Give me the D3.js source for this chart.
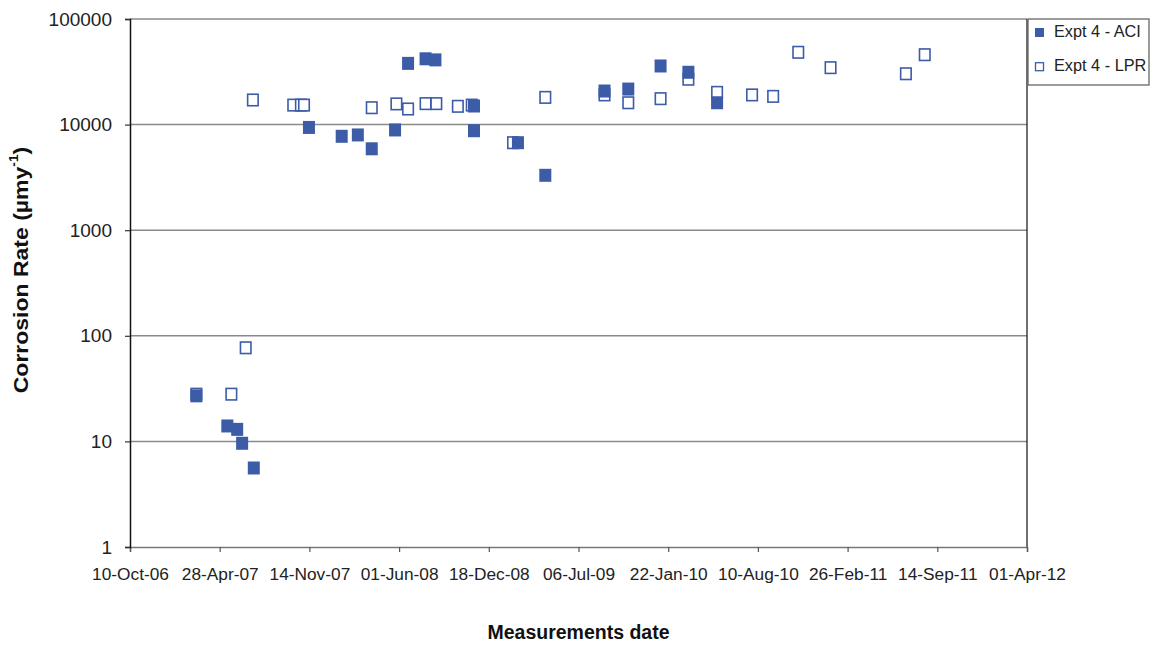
<!DOCTYPE html>
<html><head><meta charset="utf-8">
<script src="https://cdn.jsdelivr.net/npm/d3@7"></script>
<style>
html,body{margin:0;padding:0;background:#fff;}
svg{display:block;font-family:"Liberation Sans",Arial,sans-serif;}
</style></head>
<body>
<svg id="chart" width="1151" height="646"></svg>
<script>
// ---- data ----
const xTickLabels = ["10-Oct-06","28-Apr-07","14-Nov-07","01-Jun-08","18-Dec-08","06-Jul-09","22-Jan-10","10-Aug-10","26-Feb-11","14-Sep-11","01-Apr-12"];
const yTickValues = [1,10,100,1000,10000,100000];

const aciDates = ["07-Mar-07","15-May-07","06-Jun-07","17-Jun-07","13-Jul-07","13-Nov-07","25-Jan-08","01-Mar-08","01-Apr-08","23-May-08","21-Jun-08","30-Jul-08","21-Aug-08","15-Nov-08","15-Nov-08","21-Feb-09","23-Apr-09","02-Sep-09","25-Oct-09","05-Jan-10","08-Mar-10","11-May-10"];
const aciValues = [27,14,13,9.6,5.6,9400,7750,7980,5900,8900,38000,42000,41000,15000,8750,6740,3310,20800,21700,35900,31300,16100];

const lprDates = ["07-Mar-07","24-May-07","25-Jun-07","11-Jul-07","09-Oct-07","26-Oct-07","02-Nov-07","01-Apr-08","26-May-08","21-Jun-08","30-Jul-08","23-Aug-08","10-Oct-08","10-Nov-08","10-Feb-09","23-Apr-09","02-Sep-09","25-Oct-09","05-Jan-10","08-Mar-10","11-May-10","28-Jul-10","13-Sep-10","08-Nov-10","19-Jan-11","06-Jul-11","17-Aug-11"];
const lprValues = [28,28,77,17100,15300,15300,15300,14450,15700,14050,15800,15800,14900,15300,6740,18100,19100,16100,17600,26900,20200,19100,18500,48400,34600,30300,45900];

const seriesNames = ["Expt 4 - ACI","Expt 4 - LPR"];

// ---- setup ----
const parse = d3.timeParse("%d-%b-%y");
const fmt = d3.timeFormat("%d-%b-%y");
const pLeft = 130, pRight = 1027, pTop = 19, pBottom = 547;
const blue = "#3c5ca8";

const svg = d3.select("#chart");
const x = d3.scaleTime()
  .domain([parse(xTickLabels[0]), parse(xTickLabels[xTickLabels.length-1])])
  .range([pLeft, pRight]);
const y = d3.scaleLog().domain([1,100000]).range([pBottom, pTop]);

// gridlines
svg.append("g").selectAll("line").data(yTickValues.filter(v => v > 1)).join("line")
  .attr("x1", pLeft).attr("x2", pRight)
  .attr("y1", d => y(d)).attr("y2", d => y(d))
  .attr("stroke", "#8a8a8a").attr("stroke-width", 1.5);

// right border
svg.append("line").attr("x1", pRight).attr("x2", pRight).attr("y1", pTop).attr("y2", pBottom)
  .attr("stroke", "#222").attr("stroke-width", 1.3);

// x axis
const xAxis = svg.append("g").attr("transform", `translate(0,${pBottom})`)
  .call(d3.axisBottom(x).tickValues(xTickLabels.map(parse)).tickFormat(fmt).tickSizeOuter(0).tickSize(5).tickPadding(16));
xAxis.select(".domain").attr("stroke", "#777").attr("stroke-width", 1.5);
xAxis.selectAll(".tick line").attr("stroke", "#555").attr("stroke-width", 1.2);
xAxis.selectAll("text").attr("font-size", 17.3).attr("fill", "#222")
  .attr("font-family", '"Liberation Sans",Arial,sans-serif');

// y axis
const yAxis = svg.append("g").attr("transform", `translate(${pLeft},0)`)
  .call(d3.axisLeft(y).tickValues(yTickValues).tickFormat(d3.format("d")).tickSizeOuter(0).tickSize(5).tickPadding(13));
yAxis.select(".domain").attr("stroke", "#111").attr("stroke-width", 1.5);
yAxis.selectAll(".tick line").attr("stroke", "#333").attr("stroke-width", 1.2);
yAxis.selectAll("text").attr("font-size", 19).attr("fill", "#222")
  .attr("font-family", '"Liberation Sans",Arial,sans-serif');

// markers
const S = 12;
const lpr = lprDates.map((d,i) => ({date: parse(d), v: lprValues[i]}));
const aci = aciDates.map((d,i) => ({date: parse(d), v: aciValues[i]}));

svg.append("g").selectAll("rect").data(lpr).join("rect")
  .attr("x", d => x(d.date) - S/2 + 0.75).attr("y", d => y(d.v) - S/2 + 0.25)
  .attr("width", S - 1.5).attr("height", S - 0.5)
  .attr("fill", "#fff").attr("stroke", blue).attr("stroke-width", 1.6);

svg.append("g").selectAll("rect").data(aci).join("rect")
  .attr("x", d => x(d.date) - S/2).attr("y", d => y(d.v) - S/2 - 0.5)
  .attr("width", S).attr("height", S + 1)
  .attr("fill", blue);

// axis titles
svg.append("text").attr("x", (pLeft+pRight)/2).attr("y", 634)
  .attr("text-anchor", "middle").attr("dominant-baseline", "middle")
  .attr("font-size", 19.5).attr("font-weight", "bold").attr("fill", "#111")
  .text("Measurements date");

const yt = svg.append("text").attr("transform", "translate(22,270) rotate(-90) scale(1.15,1)")
  .attr("text-anchor", "middle").attr("dominant-baseline", "middle")
  .attr("font-size", 20).attr("font-weight", "bold").attr("fill", "#111");
yt.append("tspan").text("Corrosion Rate (µmy");
yt.append("tspan").attr("font-size", 12).attr("dy", -7).text("-1");
yt.append("tspan").attr("dy", 7).text(")");

// legend
const lg = svg.append("g");
lg.append("rect").attr("x", 1028).attr("y", 19).attr("width", 121).attr("height", 66)
  .attr("fill", "#fff").attr("stroke", "#666").attr("stroke-width", 1.3);
const legItems = lg.selectAll("g.item").data(seriesNames).join("g")
  .attr("transform", (d,i) => `translate(0,${32.5 + i*34})`);
legItems.append("rect")
  .attr("x", (d,i) => i ? 1035.5 : 1035).attr("y", (d,i) => i ? -3.8 : -4.5)
  .attr("width", (d,i) => i ? 8 : 9).attr("height", (d,i) => i ? 8 : 9)
  .attr("fill", (d,i) => i ? "#fff" : blue)
  .attr("stroke", (d,i) => i ? blue : "none").attr("stroke-width", 1.3);
legItems.append("text").attr("x", 1054).attr("y", 0).attr("dominant-baseline", "middle")
  .attr("font-size", 16.3).attr("fill", "#222").text(d => d);
</script>
</body></html>
